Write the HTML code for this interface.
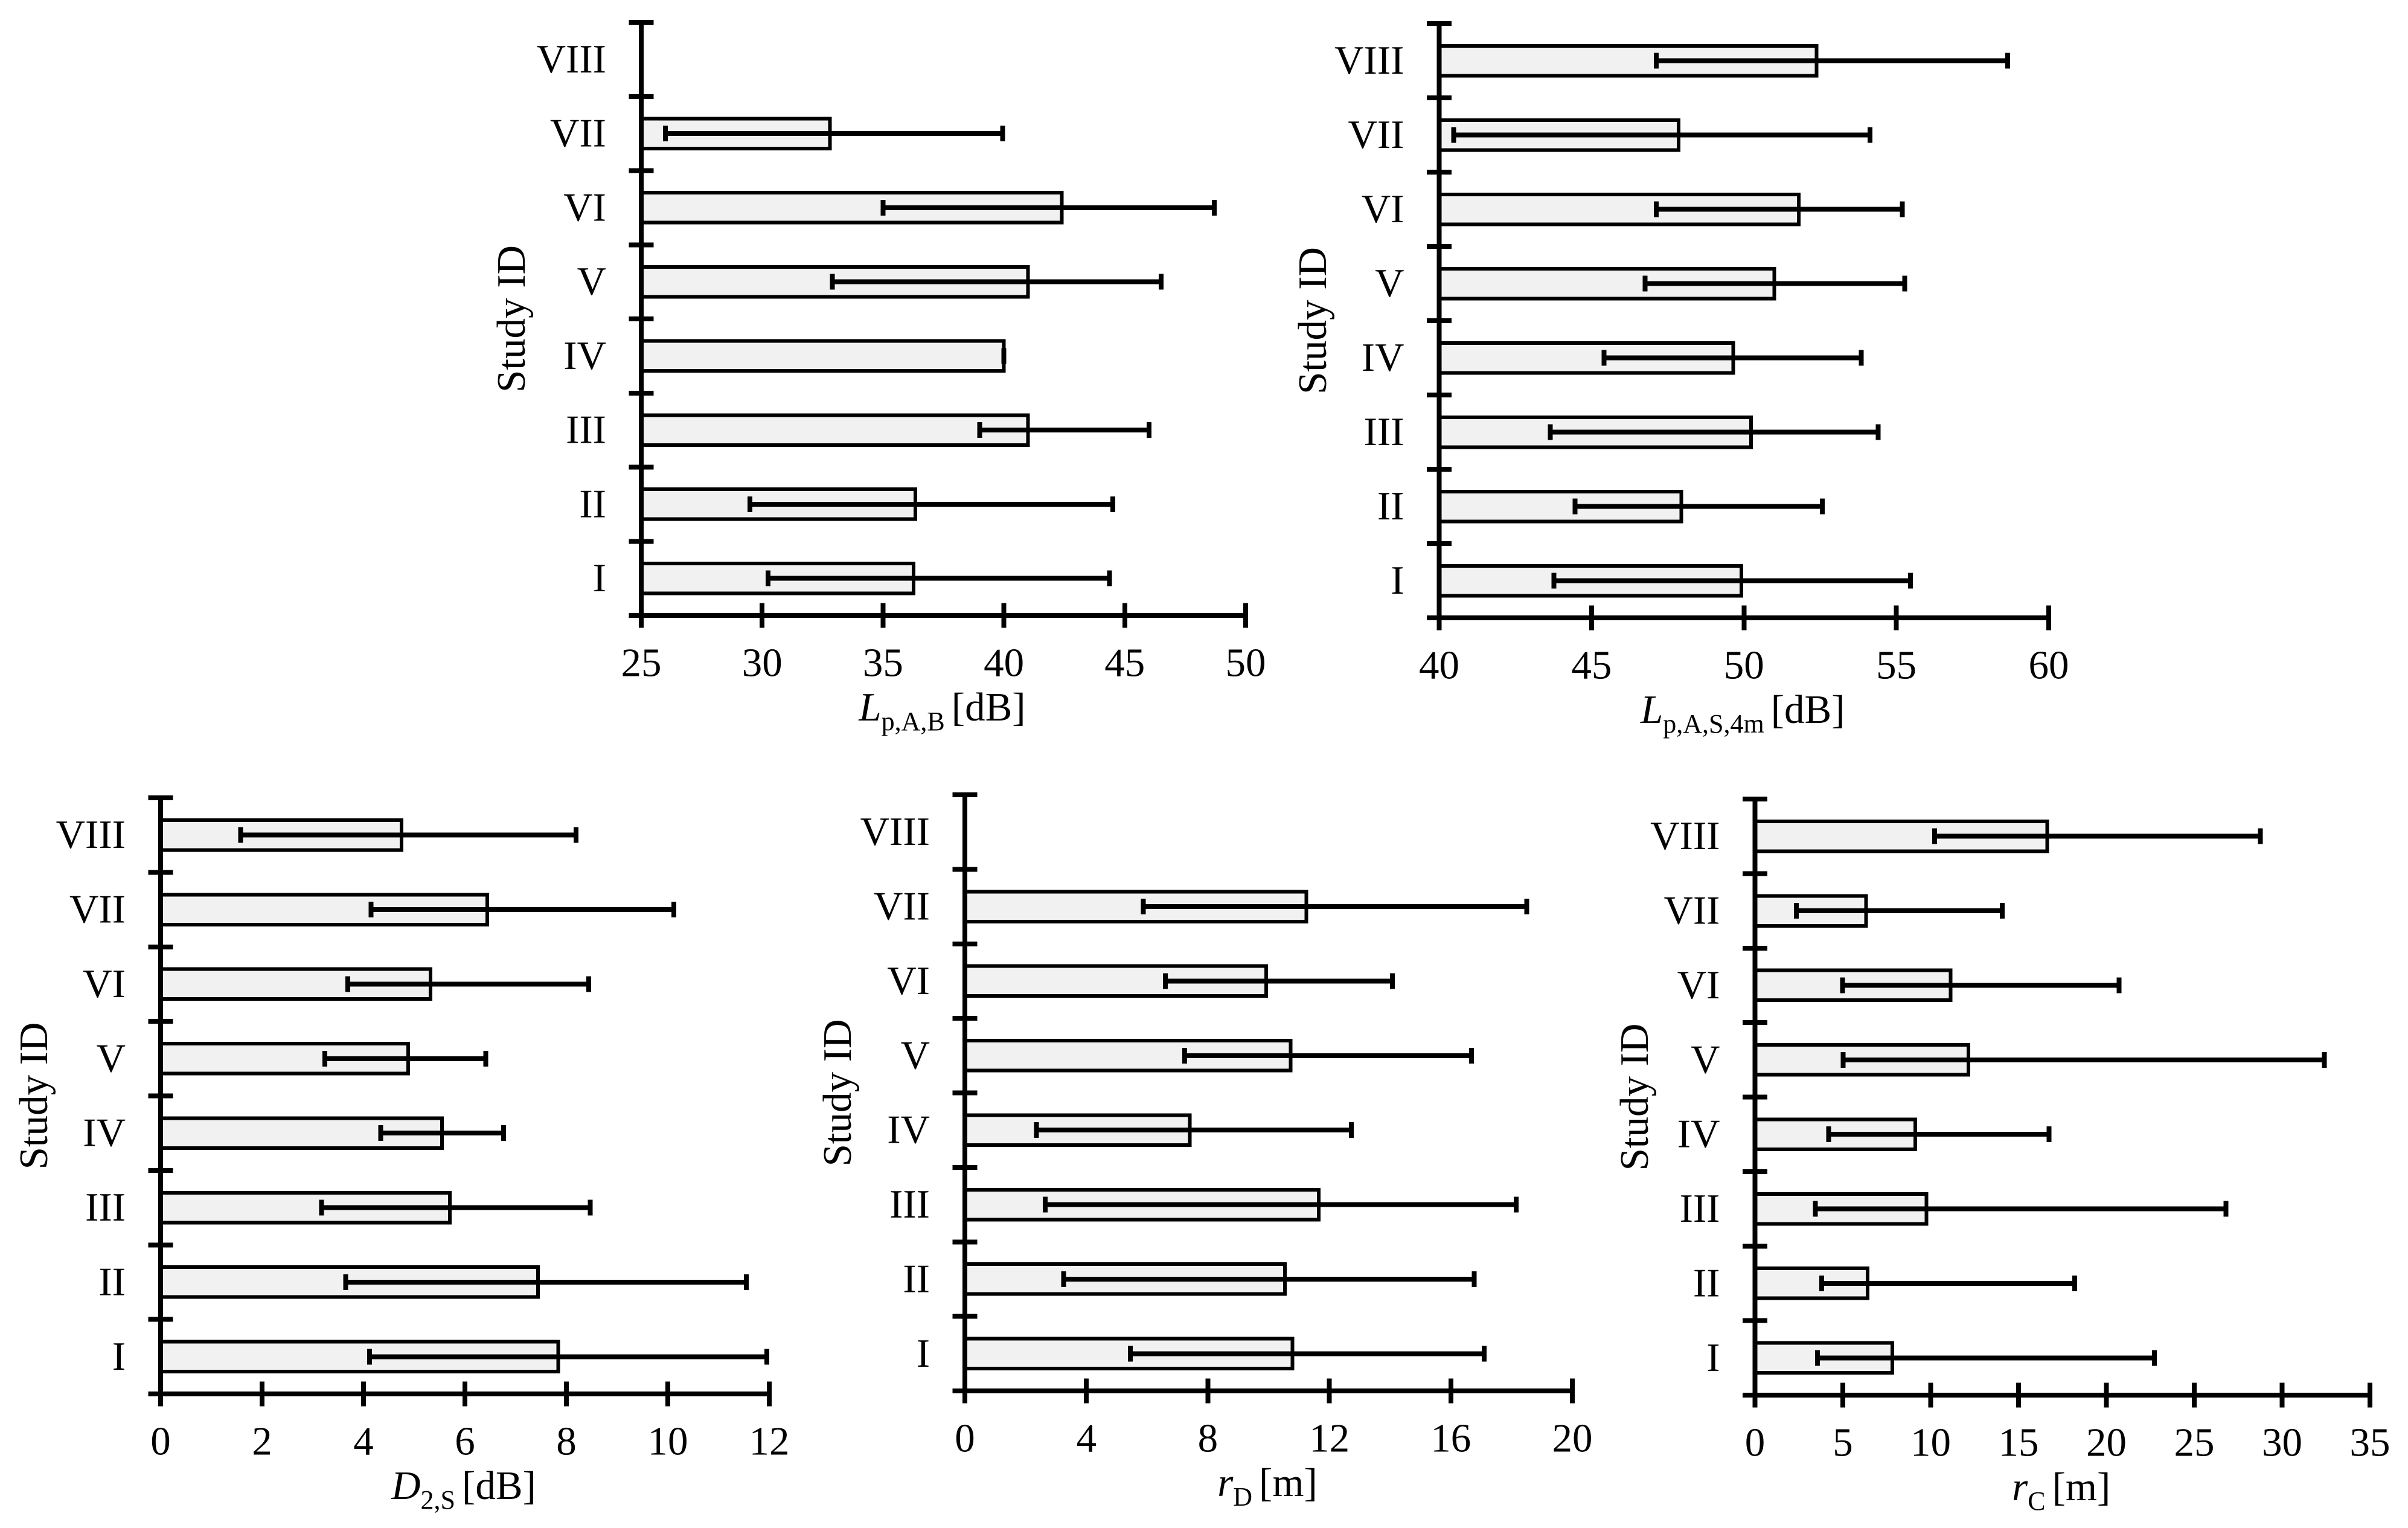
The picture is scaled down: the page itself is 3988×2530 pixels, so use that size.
<!DOCTYPE html>
<html lang="en">
<head>
<meta charset="utf-8">
<title>Study ID bar charts</title>
<style>
html,body{margin:0;padding:0;background:#fff;}
svg{display:block;}
text{font-family:"Liberation Serif",serif;fill:#000;}
</style>
</head>
<body>
<svg id="figure" xmlns="http://www.w3.org/2000/svg" width="3988" height="2530" viewBox="0 0 3988 2530">
<rect x="0" y="0" width="3988" height="2530" fill="#ffffff"/>
</svg>
<script>
// Categories, bottom to top
const studyIds = ['I','II','III','IV','V','VI','VII','VIII'];

// Panel 1: Lp,A,B [dB]
const lpabMeans = [36.26,36.34,41.0,40.0,41.0,42.4,32.8,null];
const lpabLows  = [30.24,29.5,39.0,40.0,32.9,35.0,26.0,null];
const lpabHighs = [44.37,44.5,46.0,40.0,46.5,48.7,39.95,null];
const lpabTicks = [25,30,35,40,45,50];

// Panel 2: Lp,A,S,4m [dB]
const lpas4Means = [49.92,47.94,50.23,49.65,51.0,51.8,47.86,52.38];
const lpas4Lows  = [43.76,44.46,43.65,45.41,46.76,47.12,40.48,47.12];
const lpas4Highs = [55.46,52.57,54.4,53.85,55.27,55.2,54.14,58.65];
const lpas4Ticks = [40,45,50,55,60];

// Panel 3: D2,S [dB]
const d2sMeans = [7.84,7.44,5.7,5.55,4.88,5.32,6.44,4.75];
const d2sLows  = [4.12,3.65,3.17,4.34,3.24,3.69,4.15,1.58];
const d2sHighs = [11.95,11.55,8.47,6.76,6.41,8.44,10.12,8.19];
const d2sTicks = [0,2,4,6,8,10,12];

// Panel 4: rD [m]
const rdMeans = [10.79,10.54,11.65,7.41,10.73,9.92,11.24,null];
const rdLows  = [5.45,3.25,2.64,2.36,7.24,6.6,5.87,null];
const rdHighs = [17.1,16.77,18.15,12.72,16.68,14.08,18.5,null];
const rdTicks = [0,4,8,12,16,20];

// Panel 5: rC [m]
const rcMeans = [7.81,6.41,9.76,9.12,12.15,11.13,6.32,16.64];
const rcLows  = [3.56,3.79,3.44,4.2,5.01,4.98,2.36,10.23];
const rcHighs = [22.73,18.19,26.8,16.73,32.4,20.72,14.08,28.77];
const rcTicks = [0,5,10,15,20,25,30,35];

const SVG_NS = 'http://www.w3.org/2000/svg';
const figure = document.getElementById('figure');

function shape(parent, tag, props) {
  const el = document.createElementNS(SVG_NS, tag);
  Object.keys(props).forEach(function (k) { el.setAttribute(k, props[k]); });
  parent.appendChild(el);
  return el;
}

function drawPanel(p) {
  const domainMin = p.ticks[0];
  const domainMax = p.ticks[p.ticks.length - 1];
  const xScale = function (v) { return p.x0 + (v - domainMin) / (domainMax - domainMin) * (p.x1 - p.x0); };
  const step = (p.bottom - p.top) / studyIds.length;
  const yScale = function (i) { return p.bottom - (i + 0.5) * step; };

  const g = shape(figure, 'g', {});
  
  

  // bars
  studyIds.forEach(function (id, i) {
    const mean = p.means[i];
    if (mean === null) return;
    const cy = yScale(i);
    const bar = shape(g, 'rect', {
      x: p.x0, y: cy - 24.75, width: xScale(mean) - p.x0, height: 49.5,
      fill: '#f1f1f1', stroke: '#000', 'stroke-width': 6, 'shape-rendering': 'crispEdges'
    });
    
    
  });

  // error bars
  studyIds.forEach(function (id, i) {
    const low = p.lows[i];
    const high = p.highs[i];
    if (low === null || high === null) return;
    const cy = yScale(i);
    const eb = shape(g, 'path', {
      d: 'M' + xScale(low) + ' ' + cy + 'H' + xScale(high) +
         'M' + xScale(low) + ' ' + (cy - 13) + 'V' + (cy + 13) +
         'M' + xScale(high) + ' ' + (cy - 13) + 'V' + (cy + 13),
      fill: 'none', stroke: '#000', 'stroke-width': 8, 'shape-rendering': 'crispEdges'
    });
    
    
  });

  // axes
  const yAxis = shape(g, 'path', {
    d: 'M' + p.x0 + ' ' + (p.top - 4) + 'V' + (p.bottom + 20.5),
    fill: 'none', stroke: '#000', 'stroke-width': 8, 'shape-rendering': 'crispEdges'
  });
  
  

  const xAxis = shape(g, 'path', {
    d: 'M' + (p.x0 - 20.5) + ' ' + p.bottom + 'H' + (p.x1 + 4),
    fill: 'none', stroke: '#000', 'stroke-width': 8, 'shape-rendering': 'crispEdges'
  });
  
  

  // y ticks at the band edges
  for (let i = 0; i <= studyIds.length; i++) {
    const ty = p.bottom - i * step;
    const yt = shape(g, 'path', {
      d: 'M' + (p.x0 - 20.5) + ' ' + ty + 'H' + (p.x0 + 20.5),
      fill: 'none', stroke: '#000', 'stroke-width': 8, 'shape-rendering': 'crispEdges'
    });
    
    
  }

  // y tick labels
  studyIds.forEach(function (id, i) {
    const lab = shape(g, 'text', {
      x: p.x0 - 58, y: yScale(i) + 21.5, 'text-anchor': 'end', 'font-size': 67
    });
    lab.textContent = id;
    
    
  });

  // x ticks and labels
  p.ticks.forEach(function (t) {
    const tx = xScale(t);
    const xt = shape(g, 'path', {
      d: 'M' + tx + ' ' + (p.bottom - 20.5) + 'V' + (p.bottom + 20.5),
      fill: 'none', stroke: '#000', 'stroke-width': 8, 'shape-rendering': 'crispEdges'
    });
    
    
    const lab = shape(g, 'text', {
      x: tx, y: p.bottom + 100.5, 'text-anchor': 'middle', 'font-size': 67
    });
    lab.textContent = String(t);
    
    
  });

  // y-axis title
  const my = (p.top + p.bottom) / 2;
  const yTitle = shape(g, 'text', {
    x: 0, y: 0, 'text-anchor': 'middle', 'font-size': 67,
    transform: 'translate(' + p.yTitleX + ' ' + my + ') rotate(-90)'
  });
  yTitle.textContent = 'Study ID';
  
  

  // x-axis title
  const xTitle = shape(g, 'text', {
    x: (p.x0 + p.x1) / 2 - 2, y: p.bottom + 174, 'text-anchor': 'middle', 'font-size': 67
  });
  
  
  const sym = shape(xTitle, 'tspan', { 'font-style': 'italic' });
  sym.textContent = p.symbol;
  const sub = shape(xTitle, 'tspan', { 'font-size': 44, dy: 16 });
  sub.textContent = p.subscript + ' ';
  const unit = shape(xTitle, 'tspan', { dy: -16 });
  unit.textContent = p.unit;
}

drawPanel({ name: 'lp-a-b', means: lpabMeans, lows: lpabLows, highs: lpabHighs, ticks: lpabTicks,
  x0: 1062, x1: 2063, top: 37, bottom: 1019, yTitleX: 869, symbol: 'L', subscript: 'p,A,B', unit: '[dB]' });
drawPanel({ name: 'lp-a-s-4m', means: lpas4Means, lows: lpas4Lows, highs: lpas4Highs, ticks: lpas4Ticks,
  x0: 2383.5, x1: 3393, top: 39, bottom: 1023, yTitleX: 2196, symbol: 'L', subscript: 'p,A,S,4m', unit: '[dB]' });
drawPanel({ name: 'd-2-s', means: d2sMeans, lows: d2sLows, highs: d2sHighs, ticks: d2sTicks,
  x0: 266, x1: 1274, top: 1321, bottom: 2308, yTitleX: 78, symbol: 'D', subscript: '2,S', unit: '[dB]' });
drawPanel({ name: 'r-d', means: rdMeans, lows: rdLows, highs: rdHighs, ticks: rdTicks,
  x0: 1598, x1: 2604, top: 1316, bottom: 2303, yTitleX: 1409, symbol: 'r', subscript: 'D', unit: '[m]' });
drawPanel({ name: 'r-c', means: rcMeans, lows: rcLows, highs: rcHighs, ticks: rcTicks,
  x0: 2906.5, x1: 3925, top: 1323, bottom: 2310, yTitleX: 2729, symbol: 'r', subscript: 'C', unit: '[m]' });
</script>
</body>
</html>
